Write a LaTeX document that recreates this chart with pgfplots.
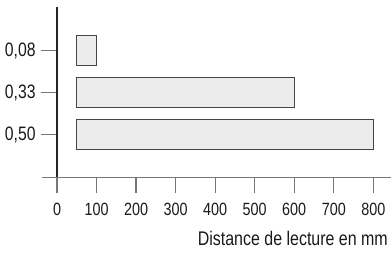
\documentclass[border=0pt]{standalone}
\usepackage{fontspec}
\setmainfont{Liberation Sans}[FakeStretch=0.81]
\usepackage{pgfplots}
\pgfplotsset{compat=1.18}
\definecolor{barfill}{HTML}{ECECEC}
\definecolor{bardraw}{HTML}{444444}
\definecolor{axisgray}{HTML}{777777}
\definecolor{txt}{HTML}{1A1A1A}
\begin{document}
\begin{tikzpicture}
\begin{axis}[
  at={(0,0)}, anchor=south west,
  scale only axis,
  width=333.7bp, height=170.4bp,
  xmin=0, xmax=844,
  ymin=-0.024, ymax=4.033,
  clip=false,
  axis line style={draw=none},
  xbar stacked,
  bar width=30bp,
  xtick={0,100,200,300,400,500,600,700,800},
  xticklabels={0,100,200,300,400,500,600,700,800},
  ytick={1,2,3},
  yticklabels={{0,50},{0,33},{0,08}},
  xtick pos=bottom, ytick pos=left,
  tick align=outside,
  major tick length=15.5bp,
  tick style={color=axisgray, line width=1.2bp},
  every tick label/.append style={text=txt, inner sep=0pt},
  xticklabel style={font=\fontsize{17.8}{21}\selectfont, anchor=north, yshift=-10bp},
  yticklabel style={font=\fontsize{19.5}{23}\selectfont, anchor=east, xshift=-5.7bp},
  /pgf/number format/assume math mode=true,
  xlabel={Distance de lecture en mm},
  xlabel style={at={(axis description cs:0.992,0)}, anchor=base east, yshift=-67.3bp, font=\fontsize{19.8}{24}\selectfont, text=txt, inner sep=0pt},
]
\addplot[draw=none, fill=none, forget plot] coordinates {(50,1) (50,2) (50,3)};
\addplot[fill=barfill, draw=bardraw, line width=1bp] coordinates {(750,1) (550,2) (50,3)};
\draw[axisgray, line width=1.3bp] (axis cs:-39,-0.024) -- (axis cs:844,-0.024);
\draw[black!85, line width=1.3bp] (axis cs:0,4.033) -- (axis cs:0,-0.024);
\end{axis}
\pgfresetboundingbox
\path (-57bp,-75.3bp) rectangle (335bp,177.7bp);
\end{tikzpicture}
\end{document}
